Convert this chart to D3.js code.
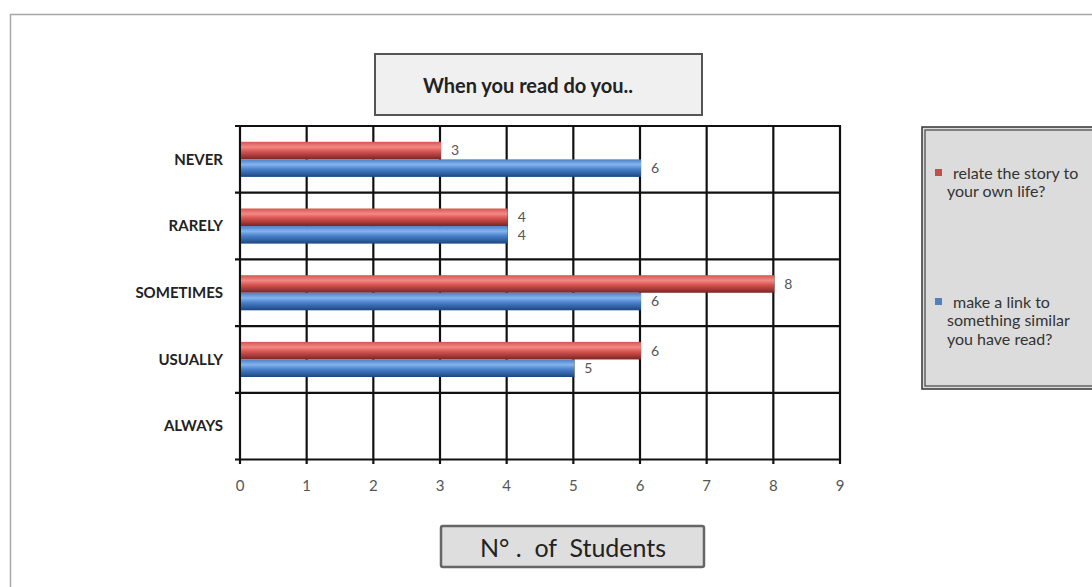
<!DOCTYPE html>
<html><head><meta charset="utf-8">
<script src="https://cdn.jsdelivr.net/npm/d3@7"></script>
<style>body{margin:0;background:#fff;} svg{display:block;}</style>
</head><body>
<svg id="c" width="1092" height="587"></svg>
<script>
const categories = ["NEVER","RARELY","SOMETIMES","USUALLY","ALWAYS"];
const seriesNames = ["relate the story to your own life?","make a link to something similar you have read?"];
const relateValues = [3,4,8,6,null];
const linkValues = [6,4,6,5,null];
const xTicks = [0,1,2,3,4,5,6,7,8,9];
const titleText = "When you read do you..";
const axisTitle = "N° .  of  Students";

const svg = d3.select("#c");
const defs = svg.append("defs");
function grad(id, stops){
  const g = defs.append("linearGradient").attr("id",id).attr("x1",0).attr("y1",0).attr("x2",0).attr("y2",1);
  stops.forEach(s=>g.append("stop").attr("offset",s[0]).attr("stop-color",s[1]));
}
grad("gRed",[[0,"#d9544f"],[0.3,"#f08a86"],[0.55,"#d9534f"],[1,"#7a2422"]]);
grad("gBlue",[[0,"#4a80c8"],[0.3,"#86b4ec"],[0.55,"#4a82cc"],[1,"#1c4680"]]);

// outer border
svg.append("rect").attr("x",10.5).attr("y",14.5).attr("width",1200).attr("height",700)
  .attr("fill","#fff").attr("stroke","#a8a8a8").attr("stroke-width",1.5);

const x = d3.scaleLinear().domain([0,9]).range([240,840]);
const y = d3.scaleBand().domain(categories).range([126,459.5]);
const ys = d3.scaleBand().domain([0,1]).range([0,y.bandwidth()]).paddingInner(0).paddingOuter(0.9);

const g = svg.append("g");
const series = [relateValues, linkValues];
const fills = ["url(#gRed)","url(#gBlue)"];

// grid lines
g.selectAll(null).data(xTicks).enter().append("line")
  .attr("x1",d=>x(d)).attr("x2",d=>x(d)).attr("y1",126).attr("y2",464)
  .attr("stroke","#111").attr("stroke-width",2.2);
const bounds = categories.map(c=>y(c)).concat([y.range()[1]]);
g.selectAll(null).data(bounds).enter().append("line")
  .attr("x1",235).attr("x2",x(9)+1).attr("y1",d=>d).attr("y2",d=>d)
  .attr("stroke","#111").attr("stroke-width",2.2);

// bars (on top of grid)
series.forEach((vals,si)=>{
  const data = categories.map((c,i)=>({c, v: vals[i]})).filter(d=>d.v!=null);
  g.selectAll(null).data(data).enter().append("rect")
    .attr("x",x(0)+1).attr("y",d=>y(d.c)+ys(si))
    .attr("width",d=>x(d.v)-x(0)).attr("height",ys.bandwidth())
    .attr("fill",fills[si]);
});

// value labels
series.forEach((vals,si)=>{
  const data = categories.map((c,i)=>({c, v: vals[i]})).filter(d=>d.v!=null);
  g.selectAll(null).data(data).enter().append("text")
    .attr("x",d=>x(d.v)+11).attr("y",d=>y(d.c)+ys(si)+ys.bandwidth()/2)
    .attr("dy","0.35em").attr("font-family","Lato, sans-serif").attr("font-size",14)
    .attr("fill","#555").text(d=>d.v);
});

// category labels
g.selectAll(null).data(categories).enter().append("text")
  .attr("x",223).attr("y",d=>y(d)+y.bandwidth()/2).attr("dy","0.35em")
  .attr("text-anchor","end").attr("font-family","Lato, sans-serif").attr("font-weight","bold")
  .attr("font-size",15).attr("fill","#222").text(d=>d);

// x tick labels
g.selectAll(null).data(xTicks).enter().append("text")
  .attr("x",d=>x(d)).attr("y",486).attr("dy","0.35em").attr("text-anchor","middle")
  .attr("font-family","Lato, sans-serif").attr("font-size",15).attr("fill","#555").text(d=>d);

// title box
svg.append("rect").attr("x",375).attr("y",54).attr("width",327).attr("height",61)
  .attr("fill","#f0f0f0").attr("stroke","#555").attr("stroke-width",2);
svg.append("text").attr("x",528).attr("y",86).attr("dy","0.35em").attr("text-anchor","middle")
  .attr("font-family","Lato, sans-serif").attr("font-weight","bold").attr("font-size",20).attr("fill","#222")
  .text(titleText);

// axis title box
svg.append("rect").attr("x",441).attr("y",526).attr("width",263).attr("height",41)
  .attr("fill","#dedede").attr("stroke","#666").attr("stroke-width",2.5).attr("rx",2);
svg.append("text").attr("x",573).attr("y",548).attr("dy","0.35em").attr("text-anchor","middle")
  .attr("font-family","Lato, sans-serif").attr("font-size",25).attr("fill","#222")
  .style("white-space","pre").text(axisTitle);

// legend
svg.append("rect").attr("x",922).attr("y",127).attr("width",220).attr("height",262)
  .attr("fill","#dcdcdc").attr("stroke","#333").attr("stroke-width",1.5);
svg.append("rect").attr("x",925).attr("y",130).attr("width",214).attr("height",256)
  .attr("fill","none").attr("stroke","#444").attr("stroke-width",1.2);
const legendLines = [["relate the story to","your own life?"],["make a link to","something similar","you have read?"]];
const legendColors = ["#c0504d","#4f81bd"];
const legendY = [173, 302];
legendLines.forEach((lines,i)=>{
  svg.append("rect").attr("x",935).attr("y",legendY[i]-4).attr("width",7).attr("height",7).attr("fill",legendColors[i]);
  lines.forEach((t,j)=>{
    svg.append("text").attr("x",j===0?953:947).attr("y",legendY[i]+j*18.5).attr("dy","0.35em")
      .attr("font-family","Lato, sans-serif").attr("font-size",16).attr("fill","#333").text(t);
  });
});
</script>
</body></html>
